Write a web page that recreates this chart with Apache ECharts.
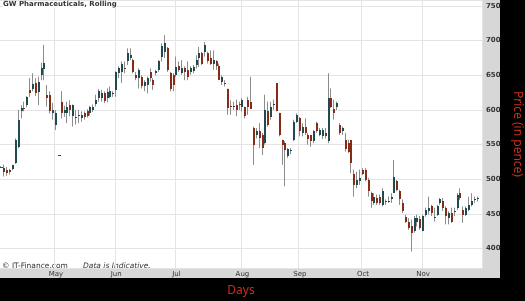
<!DOCTYPE html>
<html lang="en">
<head>
    <meta charset="utf-8">
    <title>GW Pharmaceuticals, Rolling</title>
    <script src="https://cdn.jsdelivr.net/npm/echarts@6/dist/echarts.min.js"></script>
    <style>
        html, body { margin: 0; padding: 0; background: #000; }
        #chart { width: 525px; height: 301px; }
    </style>
</head>
<body>
<div id="chart"></div>
<script>
    // month labels and the trading-day index where each month starts
    var monthLabels = ['May', 'Jun', 'Jul', 'Aug', 'Sep', 'Oct', 'Nov'];
    var monthStart = [19, 40, 61, 84, 104, 126, 147];

    // daily candles: [open, close, low, high] in pence
    var candles = [
        [518, 518, 517, 519], [511, 516, 504, 521], [514, 509, 505, 518], [514, 511, 507, 515],
        [515, 520, 513, 521], [524, 557, 522, 559], [547, 586, 545, 600], [598, 603, 588, 607],
        [603, 601, 598, 612], [607, 619, 604, 620], [629, 625, 619, 646], [630, 637, 627, 653],
        [639, 625, 620, 646], [626, 641, 607, 648], [651, 660, 643, 668], [659, 668, 643, 694],
        [622, 617, 605, 636], [622, 598, 595, 627], [596, 600, 586, 610], [579, 596, 571, 600],
        [535, 535, 535, 535], [611, 596, 588, 627], [596, 600, 590, 606], [596, 605, 581, 612],
        [607, 600, 591, 614], [591, 607, 576, 608], [590, 589, 579, 600], [592, 593, 581, 600],
        [588, 593, 583, 598], [596, 590, 586, 598], [598, 592, 589, 601], [595, 604, 592, 606],
        [600, 605, 597, 608], [608, 615, 605, 622], [617, 627, 612, 630], [617, 624, 612, 629],
        [624, 613, 610, 627], [617, 626, 611, 631], [619, 628, 617, 634], [624, 625, 619, 627],
        [629, 655, 619, 656], [653, 660, 646, 663], [655, 667, 639, 670], [661, 659, 653, 670],
        [670, 682, 665, 689], [675, 680, 672, 689], [672, 655, 653, 674], [651, 646, 643, 655],
        [646, 658, 631, 660], [648, 634, 631, 650], [634, 641, 627, 643], [636, 646, 624, 648],
        [655, 646, 641, 660], [643, 636, 629, 646], [653, 656, 650, 658], [658, 670, 655, 672],
        [676, 692, 670, 696], [684, 696, 675, 708], [689, 658, 655, 691], [653, 631, 627, 655],
        [650, 636, 627, 653], [650, 662, 648, 677], [663, 658, 655, 670], [653, 660, 651, 672],
        [660, 655, 643, 663], [658, 648, 643, 670], [655, 660, 651, 663], [656, 662, 653, 665],
        [665, 672, 660, 679], [675, 682, 662, 691], [682, 667, 665, 684], [684, 694, 677, 698],
        [682, 670, 667, 684], [675, 667, 665, 686], [667, 672, 658, 686], [670, 663, 658, 672],
        [663, 643, 643, 667], [641, 648, 636, 650], [639, 638, 634, 643], [631, 603, 593, 631],
        [606, 605, 593, 614], [605, 606, 600, 612], [607, 600, 591, 615], [608, 607, 600, 612],
        [605, 615, 598, 617], [605, 591, 588, 605], [615, 605, 593, 619], [612, 602, 602, 648],
        [574, 550, 521, 576], [564, 569, 559, 574], [569, 559, 545, 581], [564, 545, 535, 567],
        [552, 600, 550, 622], [598, 578, 576, 612], [590, 605, 586, 612], [607, 608, 600, 615],
        [639, 598, 598, 639], [595, 564, 562, 596], [557, 550, 521, 557], [552, 542, 490, 555],
        [534, 544, 531, 545], [541, 542, 536, 545], [557, 583, 555, 586], [583, 593, 581, 595],
        [588, 569, 562, 590], [567, 576, 562, 581], [576, 567, 564, 588], [564, 558, 550, 567],
        [564, 555, 547, 564], [555, 569, 552, 571], [581, 569, 567, 583], [564, 571, 562, 574],
        [562, 571, 558, 574], [567, 562, 559, 574], [555, 617, 552, 653], [617, 605, 603, 631],
        [602, 596, 586, 615], [605, 610, 600, 612], [579, 567, 564, 581], [569, 574, 564, 576],
        [557, 543, 540, 567], [552, 540, 538, 557], [556, 523, 509, 556], [507, 492, 475, 514],
        [492, 499, 487, 511], [497, 502, 492, 514], [514, 507, 506, 516], [514, 499, 497, 516],
        [499, 483, 475, 502], [480, 468, 459, 482], [466, 475, 463, 480], [473, 466, 463, 478],
        [475, 466, 463, 478], [463, 483, 461, 487], [469, 468, 463, 471], [468, 469, 466, 475],
        [471, 475, 466, 480], [480, 504, 480, 528], [497, 485, 483, 499], [483, 471, 463, 485],
        [466, 454, 451, 471], [446, 439, 437, 449], [438, 430, 427, 444], [432, 423, 396, 442],
        [425, 444, 423, 447], [439, 444, 432, 449], [442, 430, 427, 447], [425, 447, 425, 449],
        [449, 456, 446, 459], [454, 459, 449, 475], [461, 451, 447, 463], [445, 444, 439, 459],
        [449, 461, 447, 463], [466, 471, 463, 473], [468, 459, 454, 473], [459, 447, 435, 461],
        [444, 451, 435, 454], [451, 439, 437, 459], [453, 454, 447, 459], [459, 478, 456, 480],
        [480, 473, 470, 487], [456, 449, 437, 461], [449, 459, 447, 461], [456, 463, 454, 475],
        [463, 468, 461, 480], [470, 471, 466, 475], [471, 473, 468, 475]
    ];

    // one spare slot after the last candle
    var days = [];
    for (var i = 0; i <= candles.length; i++) days.push(String(i));

    var upColor = '#1e4a50';
    var downColor = '#862c16';
    var wickColor = '#8c8c8c';
    var redText = '#c8301e';

    function isMonthStart(index) {
        return monthStart.indexOf(index) >= 0;
    }

    function renderCandle(params, api) {
        var x = api.value(0);
        var open = api.value(1), close = api.value(2), low = api.value(3), high = api.value(4);
        var pLow = api.coord([x, low]);
        var pHigh = api.coord([x, high]);
        var pOpen = api.coord([x, open]);
        var pClose = api.coord([x, close]);
        var left = Math.round(pLow[0] - 1);
        var top = Math.round(Math.min(pOpen[1], pClose[1]));
        var bottom = Math.round(Math.max(pOpen[1], pClose[1]));
        var h = Math.max(1, bottom - top);
        var isUp = close > open;
        var fill = close === open ? '#444' : (isUp ? upColor : downColor);
        return {
            type: 'group',
            children: [{
                type: 'line',
                shape: { x1: left + 0.5, y1: pHigh[1], x2: left + 0.5, y2: pLow[1] },
                style: { stroke: wickColor, lineWidth: 1 }
            }, {
                type: 'rect',
                shape: { x: left, y: top, width: close === open ? 3 : 2, height: h },
                style: { fill: fill }
            }]
        };
    }

    var chart = echarts.init(document.getElementById('chart'));
    var option = {
        backgroundColor: '#000',
        animation: false,
        textStyle: { fontFamily: 'DejaVu Sans' },
        graphic: [{
            // grey panel behind the price labels and the month labels
            type: 'rect', z: -10,
            shape: { x: 0, y: 0, width: 500, height: 278 },
            style: { fill: '#d7d7d7' }
        }, {
            type: 'text', left: 3, top: 1, z: 100,
            style: {
                text: 'GW Pharmaceuticals, Rolling', fontSize: 7, fontWeight: 'bold', fill: '#333',
                fontFamily: 'DejaVu Sans', backgroundColor: '#fff'
            }
        }, {
            type: 'text', left: 2, top: 260,
            style: {
                text: '{a|© IT-Finance.com}    {b|Data is Indicative.}',
                fontFamily: 'DejaVu Sans',
                rich: {
                    a: { fontSize: 7.5, fill: '#333', fontFamily: 'DejaVu Sans' },
                    b: { fontSize: 7.5, fill: '#333', fontStyle: 'italic', fontFamily: 'DejaVu Sans' }
                }
            }
        }],
        grid: {
            left: 0, top: 0, right: 43, bottom: 33,
            outerBoundsMode: 'none',
            containLabel: false,
            show: true, backgroundColor: '#fff', borderWidth: 0
        },
        xAxis: {
            type: 'category',
            data: days,
            boundaryGap: true,
            name: 'Days',
            nameLocation: 'middle',
            nameGap: 23,
            nameTextStyle: { color: redText, fontSize: 12, fontFamily: 'Noto Sans', verticalAlign: 'middle' },
            axisLine: { show: false },
            axisTick: { show: false },
            axisLabel: {
                interval: function (index) { return isMonthStart(index); },
                formatter: function (value, index) {
                    var k = monthStart.indexOf(index);
                    return k >= 0 ? monthLabels[k] : '';
                },
                color: '#333', fontSize: 7, margin: 3
            },
            splitLine: {
                show: true,
                interval: function (index) { return isMonthStart(index); },
                lineStyle: { color: '#e4e4e4', width: 1 }
            }
        },
        yAxis: {
            type: 'value',
            position: 'right',
            min: 372,
            max: 758.7,
            splitNumber: 8,
            name: 'Price (in pence)',
            nameLocation: 'middle',
            nameRotate: -90,
            nameGap: 32,
            nameTextStyle: { color: redText, fontSize: 12, fontFamily: 'Noto Sans', verticalAlign: 'middle' },
            axisLine: { show: false },
            axisTick: { show: false },
            axisLabel: {
                showMinLabel: false,
                showMaxLabel: false,
                formatter: function (v) { return v % 50 === 0 ? String(v) : ''; },
                color: '#333', fontSize: 7, fontWeight: 'bold', margin: 4
            },
            splitLine: { lineStyle: { color: '#e4e4e4', width: 1 } }
        },
        series: [{
            type: 'custom',
            renderItem: renderCandle,
            encode: { x: 0, y: [1, 2, 3, 4] },
            clip: false,
            data: candles.map(function (c, i) { return [i, c[0], c[1], c[2], c[3]]; })
        }]
    };
    chart.setOption(option);
</script>
</body>
</html>
